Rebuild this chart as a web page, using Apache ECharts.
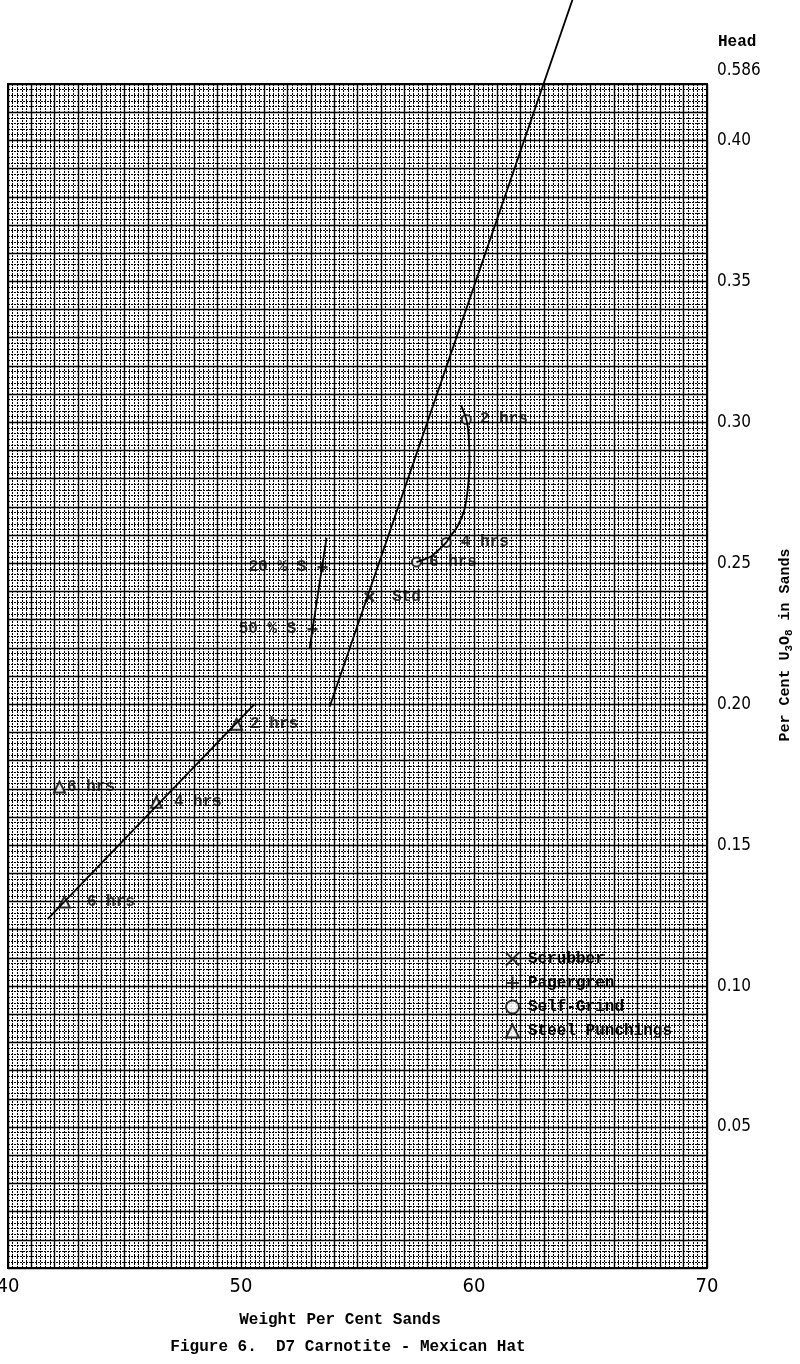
<!DOCTYPE html>
<html><head><meta charset="utf-8">
<script src="https://cdn.jsdelivr.net/npm/echarts@6/dist/echarts.min.js"></script>
<style>html,body{margin:0;padding:0;background:#fff}#c{width:800px;height:1364px}</style>
</head><body><div id="c"></div>
<script>
// ---- data ----
const xLabelTicks = [40, 50, 60, 70];
const yLabelTicks = [0.05, 0.10, 0.15, 0.20, 0.25, 0.30, 0.35, 0.40];
const scrubberLine = [[53.80, 0.199], [64.23, 0.45]];
const scrubberPoints = [[55.51, 0.238]];
const scrubberLabels = ['Std'];
const pagergrenLine = [[53.67, 0.259], [52.94, 0.2195]];
const pagergrenPoints = [[53.50, 0.2486], [53.07, 0.2266]];
const pagergrenLabels = ['20 % S', '50 % S'];
const selfGrindCurve = [[59.45, 0.3058], [59.67, 0.3011], [59.76, 0.2965], [59.81, 0.2858], [59.73, 0.2762], [59.59, 0.2691], [59.30, 0.2632], [58.95, 0.2592], [58.81, 0.2574], [58.43, 0.2543], [58.09, 0.2521], [57.53, 0.2504]];
const selfGrindPoints = [[59.67, 0.301], [58.81, 0.2574], [57.53, 0.2504]];
const selfGrindLabels = ['2 hrs', '4 hrs', '6 hrs'];
const steelLine = [[41.70, 0.1238], [50.58, 0.200]];
const steelPoints = [[49.81, 0.1929], [46.37, 0.1652], [42.42, 0.1298], [42.21, 0.1706]];
const steelLabels = ['2 hrs', '4 hrs', '6 hrs', '6 hrs'];
const legendNames = ['Scrubber', 'Pagergren', 'Self-Grind', 'Steel Punchings'];
const headText = ['Head', '0.586'];
const xAxisTitle = 'Weight Per Cent Sands';
const figureTitle = 'Figure 6.  D7 Carnotite - Mexican Hat';

// ---- styling ----
const INK = '#000';
const MONO = "'Liberation Mono', 'DejaVu Sans Mono', monospace";
const NARROW = "'Liberation Sans Narrow', 'DejaVu Sans Condensed', 'Liberation Sans', sans-serif";
const SYM_X = 'path://M0,0L10,10M10,0L0,10';
const SYM_PLUS = 'path://M5,0L5,10M0,5L10,5';

function labelled(points, labels, positions, distances) {
  return points.map((p, i) => ({
    value: p,
    label: { show: true, formatter: labels[i], position: positions[i], distance: distances[i] }
  }));
}
const labelStyle = { color: INK, fontFamily: MONO, fontSize: 16, fontWeight: 'bold' };

const chart = echarts.init(document.getElementById('c'), null, { renderer: 'canvas' });
chart.setOption({
  animation: false,
  backgroundColor: '#fff',
  grid: { left: 8, top: 84, width: 699, height: 1184, show: true, borderColor: '#000', borderWidth: 2,
    backgroundColor: 'transparent', outerBoundsMode: 'none', containLabel: false },
  xAxis: {
    type: 'value', min: 40, max: 70, interval: 1,
    axisLine: { show: true, lineStyle: { color: '#000', width: 2 } },
    axisTick: { show: false },
    axisLabel: { margin: 9, color: INK, fontFamily: NARROW, fontSize: 20,
      formatter: v => xLabelTicks.indexOf(Math.round(v)) >= 0 && Math.abs(v - Math.round(v)) < 1e-6 ? String(Math.round(v)) : '' },
    splitLine: { show: true, lineStyle: { color: '#000', width: 1.4 } },
    minorTick: { show: false, splitNumber: 5 },
    minorSplitLine: { show: true, lineStyle: { color: '#000', width: 1, type: [2, 1] } }
  },
  yAxis: {
    type: 'value', position: 'right', min: 0, max: 0.42, interval: 0.01,
    axisLine: { show: true, lineStyle: { color: '#000', width: 2 } },
    axisTick: { show: false },
    axisLabel: { margin: 10, color: INK, fontFamily: NARROW, fontSize: 17,
      formatter: v => yLabelTicks.some(t => Math.abs(t - v) < 1e-6) ? v.toFixed(2) : '' },
    splitLine: { show: true, lineStyle: { color: '#000', width: 1.4 } },
    minorTick: { show: false, splitNumber: 5 },
    minorSplitLine: { show: true, lineStyle: { color: '#000', width: 1, type: [2, 1] } }
  },
  legend: {
    orient: 'vertical', left: 500, top: 946, itemGap: 8, itemWidth: 13, itemHeight: 13,
    data: [
      { name: legendNames[0], icon: SYM_X },
      { name: legendNames[1], icon: SYM_PLUS },
      { name: legendNames[2], icon: 'emptyCircle' },
      { name: legendNames[3], icon: 'emptyTriangle' }
    ],
    textStyle: { color: INK, fontFamily: MONO, fontSize: 16, fontWeight: 'bold', padding: [0, 0, 0, 4] }
  },
  graphic: [
    { type: 'text', left: 718, top: 34, style: { text: headText[0], fill: INK, font: 'bold 16px ' + MONO } },
    { type: 'text', left: 717, top: 62, style: { text: headText[1], fill: INK, font: '17px ' + NARROW } },
    { type: 'text', x: 340, y: 1320, style: { text: xAxisTitle, fill: INK, font: 'bold 16px ' + MONO, align: 'center', verticalAlign: 'middle' } },
    { type: 'text', x: 348, y: 1347, style: { text: figureTitle, fill: INK, font: 'bold 16px ' + MONO, align: 'center', verticalAlign: 'middle' } },
    { type: 'text', x: 785, y: 645, rotation: Math.PI / 2,
      style: { text: 'Per Cent U{s|3}O{s|8} in Sands', fill: INK, font: 'bold 15px ' + MONO, align: 'center', verticalAlign: 'middle',
        rich: { s: { fontSize: 11, fontWeight: 'bold', fontFamily: MONO, fill: INK, padding: [9, 0, 0, 0] } } } }
  ],
  series: [
    { name: 'scrubber-line', type: 'line', data: scrubberLine, symbol: 'none', clip: false, lineStyle: { color: '#000', width: 1.8 }, silent: true },
    { name: 'pagergren-line', type: 'line', data: pagergrenLine, symbol: 'none', lineStyle: { color: '#000', width: 1.8 }, silent: true },
    { name: 'selfgrind-line', type: 'line', data: selfGrindCurve, symbol: 'none', smooth: 0.3, lineStyle: { color: '#000', width: 1.8 }, silent: true },
    { name: 'steel-line', type: 'line', data: steelLine, symbol: 'none', lineStyle: { color: '#000', width: 1.8 }, silent: true },
    { name: legendNames[0], type: 'scatter', symbol: SYM_X, symbolSize: 9,
      itemStyle: { color: '#000', borderColor: '#000', borderWidth: 2.5 },
      label: labelStyle,
      data: labelled(scrubberPoints, scrubberLabels, ['right'], [17]) },
    { name: legendNames[1], type: 'scatter', symbol: SYM_PLUS, symbolSize: 10,
      itemStyle: { color: '#000', borderColor: '#000', borderWidth: 2.5 },
      label: labelStyle,
      data: labelled(pagergrenPoints, pagergrenLabels, ['left', 'left'], [10, 10]) },
    { name: legendNames[2], type: 'scatter', symbol: 'emptyCircle', symbolSize: 9,
      itemStyle: { color: '#000', borderColor: '#000', borderWidth: 2 },
      label: labelStyle,
      data: labelled(selfGrindPoints, selfGrindLabels, ['right', 'right', 'right'], [8, 9, 7]) },
    { name: legendNames[3], type: 'scatter', symbol: 'emptyTriangle', symbolSize: 11,
      itemStyle: { color: '#000', borderColor: '#000', borderWidth: 2 },
      label: labelStyle,
      data: labelled(steelPoints, steelLabels, ['right', 'right', 'right', 'right'], [7, 11, 16, 1]) }
  ]
});
</script>
</body></html>
